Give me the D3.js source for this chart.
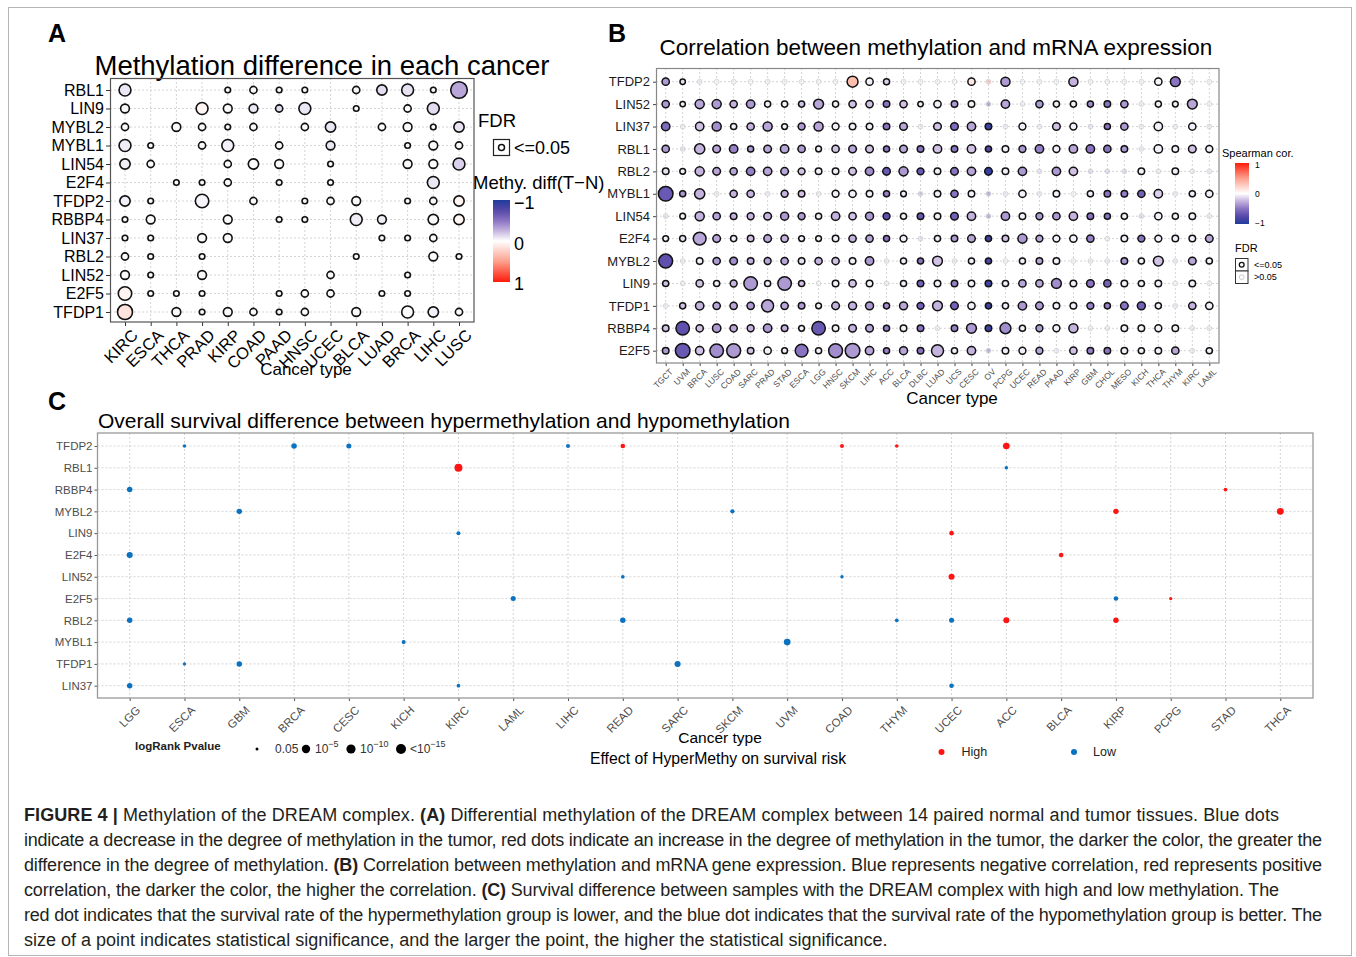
<!DOCTYPE html>
<html>
<head>
<meta charset="utf-8">
<script src="https://cdn.jsdelivr.net/npm/d3@7"></script>
<style>
body { margin: 0; background: #fff; }
svg text { font-family: Arial, "Liberation Sans", Helvetica, sans-serif; }
</style>
</head>
<body>
<script>
// ---------- data: panel A (methylation difference) ----------
var geneA = ['RBL1','LIN9','MYBL2','MYBL1','LIN54','E2F4','TFDP2','RBBP4','LIN37','RBL2','LIN52','E2F5','TFDP1'];
var cancerA = ['KIRC','ESCA','THCA','PRAD','KIRP','COAD','PAAD','HNSC','UCEC','BLCA','LUAD','BRCA','LIHC','LUSC'];
// -log10(FDR) level, 0 = not shown
var sizeA = [
  [3,0,0,0,1,1.5,1,1,0,1.5,2.5,3,1,4.5],
  [2,0,0,3,2,2,1.5,3,0,1,0,1.5,3,0],
  [1.5,0,2,1.5,1,1.5,0,1.5,2.5,0,1.5,2,1,2.5],
  [3,1,0,1.5,3,0,1.5,0,2,0,0,1,2,1.5],
  [2.5,1.5,0,0,1.5,2.5,2,0,1,0,0,2,2,3],
  [0,0,1,1,1.5,0,1,0,1,0,0,0,3,0],
  [2.5,1,0,3.5,0,1.5,0,1,1.5,2,0,1,1.5,2.5],
  [1,2,0,0,2,0,1,1,0,3,2,0,2.5,2.5],
  [1,1,0,2,2,0,0,0,0,0,1,1,1.5,0],
  [1.5,1,0,1,0,0,0,0,0,1,0,0,2,1],
  [2,1,0,2,0,0,0,0,1.5,0,0,1,0,0],
  [3.5,1,1,1,0,0,1,1.5,1.5,0,1,1,0,0],
  [4,0,2,1,2,1.5,1,1.5,0,2,0,3,2.5,1.5]
];
var diffA = [
  [-0.08,0,0,0,-0.02,-0.02,-0.02,-0.02,0,-0.03,-0.12,-0.1,-0.02,-0.3],
  [-0.02,0,0,0.05,-0.02,-0.08,-0.12,-0.08,0,-0.02,0,-0.02,-0.12,0],
  [-0.02,0,-0.02,-0.02,-0.02,-0.02,0,-0.02,-0.08,0,-0.02,-0.02,-0.02,-0.1],
  [-0.06,-0.02,0,-0.02,-0.05,0,-0.02,0,-0.08,0,0,-0.02,-0.02,-0.02],
  [-0.06,-0.02,0,0,-0.02,-0.02,-0.02,0,-0.02,0,0,-0.02,-0.02,-0.15],
  [0,0,-0.02,-0.02,-0.02,0,-0.02,0,-0.02,0,0,0,-0.08,0],
  [-0.05,-0.02,0,-0.04,0,-0.02,0,-0.02,-0.02,-0.02,0,-0.02,-0.02,0.06],
  [-0.02,-0.02,0,0,-0.02,0,-0.02,-0.02,0,-0.06,-0.06,0,-0.02,0.05],
  [-0.02,-0.02,0,-0.02,-0.02,0,0,0,0,0,-0.02,-0.02,-0.02,0],
  [-0.02,-0.02,0,-0.02,0,0,0,0,0,-0.02,0,0,-0.02,-0.02],
  [-0.02,-0.02,0,-0.02,0,0,0,0,-0.02,0,0,-0.02,0,0],
  [0.06,-0.02,-0.02,-0.02,0,0,-0.02,-0.02,-0.02,0,-0.02,-0.02,0,0],
  [0.14,0,-0.02,-0.02,-0.02,-0.02,-0.02,-0.02,0,-0.02,0,-0.02,-0.05,-0.02]
];

// ---------- data: panel B (Spearman correlation) ----------
var geneB = ['TFDP2','LIN52','LIN37','RBL1','RBL2','MYBL1','LIN54','E2F4','MYBL2','LIN9','TFDP1','RBBP4','E2F5'];
var cancerB = ['TGCT','UVM','BRCA','LUSC','COAD','SARC','PRAD','STAD','ESCA','LGG','HNSC','SKCM','LIHC','ACC','BLCA','DLBC','LUAD','UCS','CESC','OV','PCPG','UCEC','READ','PAAD','KIRP','GBM','CHOL','MESO','KICH','THCA','THYM','KIRC','LAML'];
var corB = [
  [-0.35,-0.1,-0.1,0.05,-0.05,0.05,-0.05,-0.05,-0.05,-0.05,-0.05,0.35,-0.05,-0.15,-0.05,-0.05,-0.05,0.05,0.12,0.45,-0.35,-0.05,-0.05,-0.05,-0.25,-0.05,-0.05,-0.05,-0.05,-0.03,-0.5,-0.05,-0.05],
  [-0.35,-0.05,-0.3,-0.35,-0.25,-0.35,-0.05,-0.05,-0.2,-0.3,-0.05,-0.2,-0.2,-0.5,-0.2,-0.05,-0.05,-0.35,-0.05,-0.5,-0.3,-0.1,-0.35,-0.05,-0.05,-0.4,-0.5,-0.35,-0.1,-0.05,-0.05,-0.3,-0.05],
  [-0.55,-0.1,-0.2,-0.4,-0.05,-0.25,-0.3,-0.05,-0.35,-0.3,-0.05,-0.05,-0.05,-0.5,-0.3,-0.1,-0.2,-0.55,-0.3,-0.85,-0.1,-0.05,-0.1,-0.2,-0.05,-0.15,-0.5,-0.35,-0.1,-0.05,-0.1,-0.05,-0.1],
  [-0.35,-0.15,-0.25,-0.3,-0.45,-0.35,-0.3,-0.3,-0.35,-0.05,-0.2,-0.3,-0.2,-0.5,-0.3,-0.5,-0.2,-0.5,-0.2,-0.75,-0.05,-0.35,-0.45,-0.05,-0.3,-0.5,-0.5,-0.35,-0.1,-0.05,-0.05,-0.2,-0.05],
  [-0.1,-0.05,-0.25,-0.3,-0.3,-0.45,-0.3,-0.3,-0.2,-0.05,-0.05,-0.2,-0.4,-0.65,-0.35,-0.65,-0.05,-0.5,-0.3,-0.9,-0.05,-0.35,-0.15,-0.35,-0.2,-0.2,-0.2,-0.2,-0.05,-0.1,-0.05,-0.1,-0.1],
  [-0.65,-0.35,-0.25,-0.1,-0.25,-0.25,-0.1,-0.25,-0.2,-0.1,-0.05,-0.05,-0.05,-0.45,-0.05,-0.3,-0.05,-0.5,-0.05,-0.45,-0.1,-0.05,-0.1,-0.05,-0.05,-0.05,-0.5,-0.45,-0.6,-0.15,-0.1,-0.05,-0.05],
  [-0.15,-0.05,-0.25,-0.3,-0.25,-0.25,-0.25,-0.35,-0.35,-0.05,-0.25,-0.2,-0.35,-0.7,-0.05,-0.65,-0.05,-0.6,-0.25,-0.45,-0.35,-0.05,-0.35,-0.35,-0.25,-0.5,-0.5,-0.05,-0.2,-0.05,-0.05,-0.05,-0.1],
  [-0.05,-0.1,-0.3,-0.3,-0.05,-0.2,-0.3,-0.25,-0.05,-0.05,-0.05,-0.25,-0.3,-0.5,-0.05,-0.15,-0.05,-0.35,-0.3,-0.85,-0.2,-0.35,-0.3,-0.05,-0.05,-0.45,-0.1,-0.05,-0.5,-0.05,-0.05,-0.05,-0.3],
  [-0.7,-0.1,-0.05,-0.35,-0.4,-0.25,-0.3,-0.3,-0.1,-0.25,-0.2,-0.05,-0.35,-0.1,-0.05,-0.5,-0.2,-0.1,-0.05,-0.8,-0.05,-0.05,-0.3,-0.05,-0.05,-0.1,-0.1,-0.35,-0.05,-0.2,-0.1,-0.3,-0.05],
  [-0.2,-0.1,-0.2,-0.05,-0.25,-0.35,-0.05,-0.35,-0.2,-0.05,-0.05,-0.2,-0.05,-0.1,-0.05,-0.6,-0.05,-0.45,-0.05,-0.85,-0.05,-0.3,-0.3,-0.4,-0.05,-0.5,-0.6,-0.05,-0.05,-0.05,-0.05,-0.05,-0.05],
  [-0.1,-0.2,-0.25,-0.3,-0.3,-0.35,-0.3,-0.3,-0.35,-0.05,-0.25,-0.25,-0.35,-0.4,-0.3,-0.6,-0.25,-0.6,-0.05,-0.85,-0.05,-0.35,-0.35,-0.05,-0.05,-0.45,-0.45,-0.5,-0.6,-0.05,-0.1,-0.25,-0.05],
  [-0.2,-0.7,-0.2,-0.35,-0.3,-0.25,-0.35,-0.25,-0.05,-0.65,-0.05,-0.25,-0.3,-0.45,-0.05,-0.5,-0.1,-0.45,-0.35,-0.85,-0.4,-0.05,-0.35,-0.05,-0.25,-0.1,-0.1,-0.05,-0.05,-0.05,-0.05,-0.1,-0.1],
  [-0.35,-0.65,-0.2,-0.4,-0.35,-0.2,-0.05,-0.05,-0.5,-0.05,-0.4,-0.35,-0.3,-0.45,-0.3,-0.5,-0.25,-0.05,-0.25,-0.45,-0.05,-0.05,-0.3,-0.1,-0.2,-0.45,-0.5,-0.05,-0.05,-0.05,-0.3,-0.1,-0.05]
];
// -log10(FDR); values below 1.3 are FDR > 0.05
var logFdrB = [
  [7.5,5,0.8,0.8,0.8,0.8,0.8,0.8,0.8,0.8,0.8,12.5,7.5,6,0.8,0.8,0.8,0.8,7.5,0.8,10,0.8,0.8,0.8,10,0.8,0.8,0.8,0.8,7.5,11,0.8,0.8],
  [7.5,5,10,10,7.5,9,6,6,6,11,6,7.5,7.5,6.5,7.5,5,7.5,6.5,6.5,0.8,9,0.8,7.5,6,6,6,6.5,7.5,0.8,6,5.5,11,0.8],
  [9,0.8,9,10,6,7.5,10,5.5,7,10,7,6.5,6.5,6.5,8,0.8,8,8,9,6.5,0.8,7,0.8,8,7,0.8,6,7.5,0.8,9,0.8,7.5,0.8],
  [7.5,0.8,11.5,8,9,6,8,9,7.5,5.5,7.5,8,8,6,8,6.5,9,6.5,9,6,6.5,7,9,7,9,9,7.5,6.5,0.8,9,6.5,8,7],
  [6.5,5.5,10,8,7.5,9,9,8,7,6.5,6.5,8,9,8,10,7,6.5,8,9,8,6.5,9,0.8,9,9,0.8,0.8,0.8,6.5,0.8,6.5,0.8,0.8],
  [17.5,6,11.5,0.8,7.5,7.5,0.8,7,6.5,0.8,7,7.5,6.5,6,5.5,0.8,6.5,7.5,6.5,0.8,0.8,7.5,0.8,6.5,0.8,6,6.5,6.5,7.5,9,0.8,6,7.5],
  [0.8,5.5,10,7.5,6.5,7,8,8.5,7,6,9,7.5,8.5,7,6,6.5,6.5,8,9,0.8,9,6.5,7,7.5,9,6.5,6,6,0.8,7.5,6,6.5,0.8],
  [5.5,6,15,8,6,6.5,8,7.5,5.5,5.5,6.5,7.5,7.5,6,7,0.8,6,6.5,8,6,6.5,10,7,7,7.5,7.5,0.8,6.5,7,7,6.5,6.5,8],
  [16.5,0.8,6.5,7.5,8,6.5,7,7.5,6.5,7.5,7.5,6.5,9,0.8,6,6,11,0.8,6,6,0.8,6,6.5,6.5,0.8,0.8,0.8,6.5,6,11,0.8,8,6],
  [6,0.8,7.5,6,7,16,6,16,6,0.8,6.5,7.5,6.5,0.8,6,6.5,6.5,6.5,6.5,6.5,6,7.5,7.5,11,6.5,8,7.5,6.5,6,6.5,0.8,6.5,0.8],
  [0.8,6,9,7.5,7.5,7.5,14,7.5,6.5,5.5,8,8.5,8.5,6,8.5,7,11,8,7.5,6,6,9,8,6.5,6.5,7,6,8,8.5,6,0.8,7.5,7.5],
  [6.5,16,7.5,9,7.5,7,9,6.5,5.5,16,6.5,8,8,6,6.5,6.5,0.8,6.5,11,6.5,12.5,6,7,7,10,0.8,0.8,6.5,6.5,7,6.5,0.8,0.8],
  [6.5,17.5,9,16,16.5,6.5,7.5,5.5,15,6,16.5,17.5,9,6,8.5,6.5,14,6,9,0.8,6.5,7,7,0.8,7.5,6.5,6.5,6.5,6,6.5,7.5,0.8,6]
];

// ---------- data: panel C (overall survival) ----------
var geneC = ['TFDP2','RBL1','RBBP4','MYBL2','LIN9','E2F4','LIN52','E2F5','RBL2','MYBL1','TFDP1','LIN37'];
var cancerC = ['LGG','ESCA','GBM','BRCA','CESC','KICH','KIRC','LAML','LIHC','READ','SARC','SKCM','UVM','COAD','THYM','UCEC','ACC','BLCA','KIRP','PCPG','STAD','THCA'];
// [gene, cancer, effect of hypermethylation, -log10(logRank P)]
var survPoints = [
  ['TFDP2','ESCA','Low',1.6], ['TFDP2','BRCA','Low',3.0], ['TFDP2','CESC','Low',2.7], ['TFDP2','LIHC','Low',2.0],
  ['TFDP2','READ','High',2.4], ['TFDP2','COAD','High',2.0], ['TFDP2','THYM','High',1.7], ['TFDP2','ACC','High',3.8],
  ['RBL1','KIRC','High',4.7], ['RBL1','ACC','Low',1.7],
  ['RBBP4','LGG','Low',3.0], ['RBBP4','STAD','High',1.8],
  ['MYBL2','GBM','Low',3.0], ['MYBL2','SKCM','Low',2.2], ['MYBL2','KIRP','High',3.0], ['MYBL2','THCA','High',4.0],
  ['LIN9','KIRC','Low',2.0], ['LIN9','UCEC','High',2.4],
  ['E2F4','LGG','Low',3.4], ['E2F4','BLCA','High',2.4],
  ['LIN52','READ','Low',1.8], ['LIN52','COAD','Low',1.6], ['LIN52','UCEC','High',3.4],
  ['E2F5','LAML','Low',2.7], ['E2F5','KIRP','Low',2.4], ['E2F5','PCPG','High',1.5],
  ['RBL2','LGG','Low',3.0], ['RBL2','READ','Low',3.0], ['RBL2','THYM','Low',1.8], ['RBL2','UCEC','Low',2.7],
  ['RBL2','ACC','High',3.4], ['RBL2','KIRP','High',3.0],
  ['MYBL1','KICH','Low',2.0], ['MYBL1','UVM','Low',3.8],
  ['TFDP1','ESCA','Low',1.5], ['TFDP1','GBM','Low',3.0], ['TFDP1','SARC','Low',3.4],
  ['LIN37','LGG','Low',3.0], ['LIN37','KIRC','Low',1.8], ['LIN37','UCEC','Low',2.4]
];
var pLegendLogP = [1.3, 5, 10, 15];

var caption = [
  [['FIGURE 4 | ', true], ['Methylation of the DREAM complex. ', false], ['(A)', true], [' Differential methylation of the DREAM complex between 14 paired normal and tumor tissues. Blue dots', false]],
  [['indicate a decrease in the degree of methylation in the tumor, red dots indicate an increase in the degree of methylation in the tumor, the darker the color, the greater the', false]],
  [['difference in the degree of methylation. ', false], ['(B)', true], [' Correlation between methylation and mRNA gene expression. Blue represents negative correlation, red represents positive', false]],
  [['correlation, the darker the color, the higher the correlation. ', false], ['(C)', true], [' Survival difference between samples with the DREAM complex with high and low methylation. The', false]],
  [['red dot indicates that the survival rate of the hypermethylation group is lower, and the blue dot indicates that the survival rate of the hypomethylation group is better. The', false]],
  [['size of a point indicates statistical significance, and the larger the point, the higher the statistical significance.', false]]
];
var captionEnds = [1279, 1322, 1322, 1279, 1322, null];

// ---------- drawing ----------
var width = 1356, height = 957;
var svg = d3.select('body').append('svg')
    .attr('width', width)
    .attr('height', height);

svg.append('rect').attr('x', 8.5).attr('y', 7.5).attr('width', 1343).attr('height', 948)
    .attr('fill', 'none').attr('stroke', '#b5b5b5');

var corColor = d3.scaleLinear()
    .domain([-1, -0.75, -0.5, -0.25, 0, 0.5, 1])
    .range(['#1f3c9c', '#5547a8', '#8a74c2', '#c5b3df', '#ffffff', '#fca08c', '#ff1a0a'])
    .clamp(true);

var defs = svg.append('defs');
function gradient(id, topVal, botVal) {
  var g = defs.append('linearGradient').attr('id', id)
      .attr('x1', 0).attr('y1', 0).attr('x2', 0).attr('y2', 1);
  d3.range(0, 1.0001, 0.05).forEach(function (t) {
    g.append('stop').attr('offset', t).attr('stop-color', corColor(topVal + (botVal - topVal) * t));
  });
}
gradient('gradA', -1, 1);
gradient('gradB', 1, -1);

function panelLetter(txt, x, y) {
  svg.append('text').attr('x', x).attr('y', y).text(txt)
      .attr('font-size', 25).attr('font-weight', 'bold');
}
function grid(g, xs, ys, x0, x1, y0, y1) {
  g.selectAll('.vg').data(xs).enter().append('line')
      .attr('x1', function (d) { return d; }).attr('x2', function (d) { return d; })
      .attr('y1', y0).attr('y2', y1)
      .attr('stroke', '#d4d4d4').attr('stroke-dasharray', '2,2');
  g.selectAll('.hg').data(ys).enter().append('line')
      .attr('y1', function (d) { return d; }).attr('y2', function (d) { return d; })
      .attr('x1', x0).attr('x2', x1)
      .attr('stroke', '#d4d4d4').attr('stroke-dasharray', '2,2');
}

// ===== Panel A =====
panelLetter('A', 48, 42);
svg.append('text').attr('x', 322).attr('y', 75).attr('text-anchor', 'middle')
    .attr('font-size', 27.5).text('Methylation difference in each cancer');

var xA = d3.scalePoint().domain(cancerA).range([125, 459]);
var yA = d3.scalePoint().domain(geneA).range([90, 312]);
var rA = d3.scaleLinear().domain([1, 4.5]).range([2.8, 8.3]);
var gA = svg.append('g');
grid(gA, cancerA.map(xA), geneA.map(yA), 110, 474, 78, 322);

gA.append('g').attr('transform', 'translate(110,0)')
    .call(d3.axisLeft(yA).tickSize(4).tickSizeOuter(0).tickPadding(2))
    .call(function (g) { g.select('.domain').remove(); })
    .call(function (g) { g.selectAll('text').attr('font-size', 16).attr('fill', '#000'); })
    .call(function (g) { g.selectAll('line').attr('stroke', '#333'); });
gA.append('g').attr('transform', 'translate(0,322)')
    .call(d3.axisBottom(xA).tickSize(4).tickSizeOuter(0))
    .call(function (g) { g.select('.domain').remove(); })
    .call(function (g) { g.selectAll('line').attr('stroke', '#333'); })
    .call(function (g) {
      g.selectAll('text').attr('font-size', 16.5).attr('fill', '#000')
          .attr('x', 0).attr('y', 0).attr('dy', '0.72em')
          .attr('text-anchor', 'end').attr('transform', 'translate(5,6) rotate(-45)');
    });

var cellsA = [];
geneA.forEach(function (g, i) {
  cancerA.forEach(function (c, j) {
    if (sizeA[i][j] > 0) cellsA.push({ gene: g, cancer: c, size: sizeA[i][j], diff: diffA[i][j] });
  });
});
gA.selectAll('circle.dot').data(cellsA).enter().append('circle')
    .attr('cx', function (d) { return xA(d.cancer); })
    .attr('cy', function (d) { return yA(d.gene); })
    .attr('r', function (d) { return rA(d.size); })
    .attr('fill', function (d) { return corColor(d.diff); })
    .attr('stroke', '#111').attr('stroke-width', 1.6);

gA.append('rect').attr('x', 110.5).attr('y', 78.5).attr('width', 363.5).attr('height', 243.5)
    .attr('fill', 'none').attr('stroke', '#555').attr('stroke-width', 1.2);

svg.append('text').attr('x', 306).attr('y', 375).attr('text-anchor', 'middle')
    .attr('font-size', 17).text('Cancer type');

// legend A
svg.append('text').attr('x', 478).attr('y', 127).attr('font-size', 18.5).text('FDR');
svg.append('rect').attr('x', 493.5).attr('y', 139.5).attr('width', 16).attr('height', 16)
    .attr('fill', '#fff').attr('stroke', '#222').attr('stroke-width', 1.2);
svg.append('circle').attr('cx', 501.5).attr('cy', 147.5).attr('r', 3)
    .attr('fill', '#fff').attr('stroke', '#111').attr('stroke-width', 1.5);
svg.append('text').attr('x', 514).attr('y', 154).attr('font-size', 18).text('<=0.05');
svg.append('text').attr('x', 473).attr('y', 189).attr('font-size', 18.5).text('Methy. diff(T\u2212N)');
svg.append('rect').attr('x', 493).attr('y', 200).attr('width', 17).attr('height', 82)
    .attr('fill', 'url(#gradA)');
var legAScale = d3.scaleLinear().domain([-1, 1]).range([203, 284]);
svg.selectAll('.legAlab').data([-1, 0, 1]).enter().append('text')
    .attr('x', 514).attr('y', function (d) { return legAScale(d); })
    .attr('dy', '0.35em').attr('font-size', 18)
    .text(function (d) { return d < 0 ? '\u22121' : d; });

// ===== Panel B =====
panelLetter('B', 608, 42);
svg.append('text').attr('x', 936).attr('y', 55).attr('text-anchor', 'middle')
    .attr('font-size', 22.5).text('Correlation between methylation and mRNA expression');

var xB = d3.scalePoint().domain(cancerB).range([665.7, 1209.3]);
var yB = d3.scalePoint().domain(geneB).range([81.7, 350.7]);
var rB = d3.scaleLinear().domain([5, 17.5]).range([2.7, 7.3]).clamp(true);
var gB = svg.append('g');
grid(gB, cancerB.map(xB), geneB.map(yB), 656, 1219, 68, 363);

gB.append('g').attr('transform', 'translate(656,0)')
    .call(d3.axisLeft(yB).tickSize(3).tickSizeOuter(0).tickPadding(3))
    .call(function (g) { g.select('.domain').remove(); })
    .call(function (g) { g.selectAll('text').attr('font-size', 13).attr('fill', '#1a1a1a'); })
    .call(function (g) { g.selectAll('line').attr('stroke', '#444'); });
gB.append('g').attr('transform', 'translate(0,363)')
    .call(d3.axisBottom(xB).tickSize(3).tickSizeOuter(0))
    .call(function (g) { g.select('.domain').remove(); })
    .call(function (g) { g.selectAll('line').attr('stroke', '#444'); })
    .call(function (g) {
      g.selectAll('text').attr('font-size', 8.5).attr('fill', '#4d4d4d')
          .attr('x', 0).attr('y', 0).attr('dy', '0.72em')
          .attr('text-anchor', 'end').attr('transform', 'translate(3,5) rotate(-45)');
    });

var cellsB = [];
geneB.forEach(function (g, i) {
  cancerB.forEach(function (c, j) {
    cellsB.push({ gene: g, cancer: c, cor: corB[i][j], lf: logFdrB[i][j] });
  });
});
gB.selectAll('circle.dot').data(cellsB).enter().append('circle')
    .attr('cx', function (d) { return xB(d.cancer); })
    .attr('cy', function (d) { return yB(d.gene); })
    .attr('r', function (d) { return d.lf < 1.3 ? 2.4 : rB(d.lf); })
    .attr('fill', function (d) { return corColor(d.cor); })
    .attr('fill-opacity', function (d) { return d.lf < 1.3 ? 0.55 : 1; })
    .attr('stroke', function (d) { return d.lf < 1.3 ? '#cfcfcf' : '#111'; })
    .attr('stroke-width', function (d) { return d.lf < 1.3 ? 0.8 : 1.5; });

gB.append('rect').attr('x', 656.5).attr('y', 68.5).attr('width', 562.5).attr('height', 294.5)
    .attr('fill', 'none').attr('stroke', '#888').attr('stroke-width', 1.2);

svg.append('text').attr('x', 952).attr('y', 404).attr('text-anchor', 'middle')
    .attr('font-size', 17).text('Cancer type');

// legend B
svg.append('text').attr('x', 1222).attr('y', 157).attr('font-size', 11).text('Spearman cor.');
svg.append('rect').attr('x', 1235).attr('y', 163).attr('width', 14).attr('height', 61)
    .attr('fill', 'url(#gradB)');
var legBScale = d3.scaleLinear().domain([1, -1]).range([165, 223]);
svg.selectAll('.legBlab').data([1, 0, -1]).enter().append('text')
    .attr('x', 1255).attr('y', function (d) { return legBScale(d); })
    .attr('dy', '0.35em').attr('font-size', 8.5)
    .text(function (d) { return d < 0 ? '\u22121' : d; });
svg.append('text').attr('x', 1235).attr('y', 252).attr('font-size', 11).text('FDR');
[['<=0.05', '#111', 1.3], ['>0.05', '#c4c4c4', 0.9]].forEach(function (k, i) {
  var y0 = 258.5 + i * 12.5;
  svg.append('rect').attr('x', 1235.5).attr('y', y0).attr('width', 12.5).attr('height', 12.5)
      .attr('fill', '#fff').attr('stroke', '#333');
  svg.append('circle').attr('cx', 1241.7).attr('cy', y0 + 6.2).attr('r', 2.4)
      .attr('fill', '#fff').attr('stroke', k[1]).attr('stroke-width', k[2]);
  svg.append('text').attr('x', 1254).attr('y', y0 + 6.2).attr('dy', '0.35em')
      .attr('font-size', 9).text(k[0]);
});

// ===== Panel C =====
panelLetter('C', 48, 410);
svg.append('text').attr('x', 98).attr('y', 428).attr('font-size', 21)
    .text('Overall survival difference between hypermethylation and hypomethylation');

var xC = d3.scalePoint().domain(cancerC).range([129.7, 1280.3]);
var yC = d3.scalePoint().domain(geneC).range([446, 685.7]);
var rC = d3.scaleLinear().domain([1.3, 5, 10, 15]).range([1.5, 4.2, 4.6, 5]).clamp(true);
var riskColor = d3.scaleOrdinal().domain(['High', 'Low']).range(['#ff1414', '#0a72c0']);
var gC = svg.append('g');
grid(gC, cancerC.map(xC), geneC.map(yC), 97.5, 1313, 433, 698);

gC.append('g').attr('transform', 'translate(97.5,0)')
    .call(d3.axisLeft(yC).tickSize(3).tickSizeOuter(0).tickPadding(2))
    .call(function (g) { g.select('.domain').remove(); })
    .call(function (g) { g.selectAll('text').attr('font-size', 11.5).attr('fill', '#4d4d4d'); })
    .call(function (g) { g.selectAll('line').attr('stroke', '#555'); });
gC.append('g').attr('transform', 'translate(0,698)')
    .call(d3.axisBottom(xC).tickSize(3).tickSizeOuter(0))
    .call(function (g) { g.select('.domain').remove(); })
    .call(function (g) { g.selectAll('line').attr('stroke', '#555'); })
    .call(function (g) {
      g.selectAll('text').attr('font-size', 11.5).attr('fill', '#4d4d4d')
          .attr('x', 0).attr('y', 0).attr('dy', '0.72em')
          .attr('text-anchor', 'end').attr('transform', 'translate(5,7) rotate(-45)');
    });

gC.selectAll('circle.dot').data(survPoints).enter().append('circle')
    .attr('cx', function (d) { return xC(d[1]); })
    .attr('cy', function (d) { return yC(d[0]); })
    .attr('r', function (d) { return rC(d[3]); })
    .attr('fill', function (d) { return riskColor(d[2]); });

gC.append('rect').attr('x', 97.5).attr('y', 433).attr('width', 1215.5).attr('height', 265)
    .attr('fill', 'none').attr('stroke', '#999').attr('stroke-width', 1.3);

svg.append('text').attr('x', 720).attr('y', 743).attr('text-anchor', 'middle')
    .attr('font-size', 15.5).text('Cancer type');
svg.append('text').attr('x', 718).attr('y', 764).attr('text-anchor', 'middle')
    .attr('font-size', 15.8).text('Effect of HyperMethy on survival risk');

// legend C: p-value sizes
svg.append('text').attr('x', 135).attr('y', 750).attr('font-size', 11.5)
    .attr('font-weight', 'bold').attr('fill', '#222').text('logRank Pvalue');
var pLegX = [257, 306, 351, 401];
var pLegLab = [['0.05', ''], ['10', '\u22125'], ['10', '\u221210'], ['<10', '\u221215']];
pLegendLogP.forEach(function (lp, i) {
  svg.append('circle').attr('cx', pLegX[i]).attr('cy', 749).attr('r', rC(lp)).attr('fill', '#000');
  var t = svg.append('text').attr('x', pLegX[i] + (i === 0 ? 18 : 9)).attr('y', 753)
      .attr('font-size', 12).attr('fill', '#333');
  t.append('tspan').text(pLegLab[i][0]);
  if (pLegLab[i][1]) t.append('tspan').attr('dy', -6).attr('font-size', 9).text(pLegLab[i][1]);
});

// legend C: risk colors
[['High', 941.5, 961.5], ['Low', 1074, 1093]].forEach(function (k) {
  svg.append('circle').attr('cx', k[1]).attr('cy', 752).attr('r', 3).attr('fill', riskColor(k[0]));
  svg.append('text').attr('x', k[2]).attr('y', 756).attr('font-size', 12.5).attr('fill', '#222').text(k[0]);
});

// ===== Caption =====
caption.forEach(function (line, i) {
  var t = svg.append('text').attr('x', 24).attr('y', 821 + i * 25)
      .attr('font-size', 18).attr('fill', '#231f20');
  if (captionEnds[i]) t.attr('textLength', captionEnds[i] - 24).attr('lengthAdjust', 'spacing');
  line.forEach(function (seg) {
    t.append('tspan').attr('font-weight', seg[1] ? 'bold' : 'normal').text(seg[0]);
  });
});
</script>
</body>
</html>
